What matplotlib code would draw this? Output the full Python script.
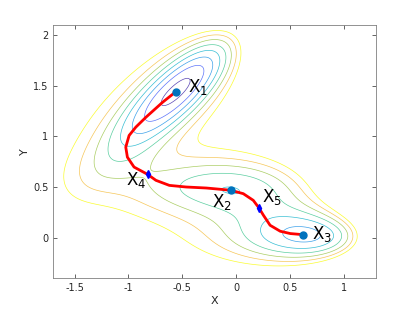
import numpy as np
import matplotlib.pyplot as plt
from matplotlib.colors import LinearSegmentedColormap

# Muller-Brown potential parameters
A = [-200, -100, -170, 15]
a = [-1, -1, -6.5, 0.7]
b = [0, 0, 11, 0.6]
c = [-10, -10, -6.5, 0.7]
x0 = [1, 0, -0.5, -1]
y0 = [0, 0.5, 1.5, 1]

levels = [-140, -120, -100, -80, -60, -40, -20, 0]

# minima X1, X2, X3 and saddles X4, X5
min_x = [-0.558, -0.050, 0.623]
min_y = [1.442, 0.467, 0.028]
sad_x = [-0.822, 0.212]
sad_y = [0.624, 0.293]

# minimum energy path
path_x = [-0.558, -0.683, -0.838, -0.932, -0.994, -1.025, -1.010, -0.948, -0.822,
          -0.745, -0.620, -0.464, -0.276, -0.050, 0.067, 0.160, 0.212, 0.254,
          0.316, 0.410, 0.504, 0.623]
path_y = [1.442, 1.336, 1.188, 1.090, 1.008, 0.893, 0.794, 0.696, 0.624,
          0.565, 0.515, 0.499, 0.489, 0.467, 0.433, 0.367, 0.293, 0.220,
          0.121, 0.062, 0.039, 0.028]

labels = ['X$_1$', 'X$_2$', 'X$_3$', 'X$_4$', 'X$_5$']
label_x = [-0.45, -0.22, 0.71, -1.02, 0.24]
label_y = [1.49, 0.35, 0.03, 0.57, 0.40]

parula = LinearSegmentedColormap.from_list('parula', [
    (0.242, 0.150, 0.660), (0.276, 0.337, 0.984), (0.124, 0.529, 0.921),
    (0.070, 0.670, 0.860), (0.100, 0.745, 0.720), (0.350, 0.800, 0.450),
    (0.720, 0.760, 0.220), (0.990, 0.740, 0.240), (0.976, 0.983, 0.054)])

gx, gy = np.meshgrid(np.linspace(-1.7, 1.3, 300), np.linspace(-0.4, 2.1, 300))
V = np.zeros_like(gx)
for i in range(4):
    dx = gx - x0[i]
    dy = gy - y0[i]
    V += A[i] * np.exp(a[i] * dx ** 2 + b[i] * dx * dy + c[i] * dy ** 2)

fig = plt.figure(figsize=(4.15, 3.12), dpi=100)
ax = fig.add_axes([0.128, 0.109, 0.778, 0.811])
ax.contour(gx, gy, V, levels=levels, cmap=parula, linewidths=0.5, alpha=0.85)
ax.plot(path_x, path_y, color='red', lw=2)
ax.plot(min_x, min_y, 'o', color=(0, 0.447, 0.741), ms=5)
ax.plot(sad_x, sad_y, 'd', color='blue', ms=4)
for t, tx, ty in zip(labels, label_x, label_y):
    ax.text(tx, ty, t, fontsize=12, va='center', ha='left')

ax.set_xlim(-1.7, 1.3)
ax.set_ylim(-0.4, 2.1)
ax.set_xticks([-1.5, -1, -0.5, 0, 0.5, 1])
ax.set_xticklabels(['-1.5', '-1', '-0.5', '0', '0.5', '1'])
ax.set_yticks([0, 0.5, 1, 1.5, 2])
ax.set_yticklabels(['0', '0.5', '1', '1.5', '2'])
ax.tick_params(direction='in', top=True, right=True, labelsize=7, colors='#262626', length=3, width=0.5)
for s in ax.spines.values():
    s.set_color('#808080')
    s.set_linewidth(0.6)
ax.set_xlabel('X', fontsize=8, color='#262626', labelpad=2)
ax.set_ylabel('Y', fontsize=8, color='#262626', labelpad=2)
fig.savefig('out.png')
